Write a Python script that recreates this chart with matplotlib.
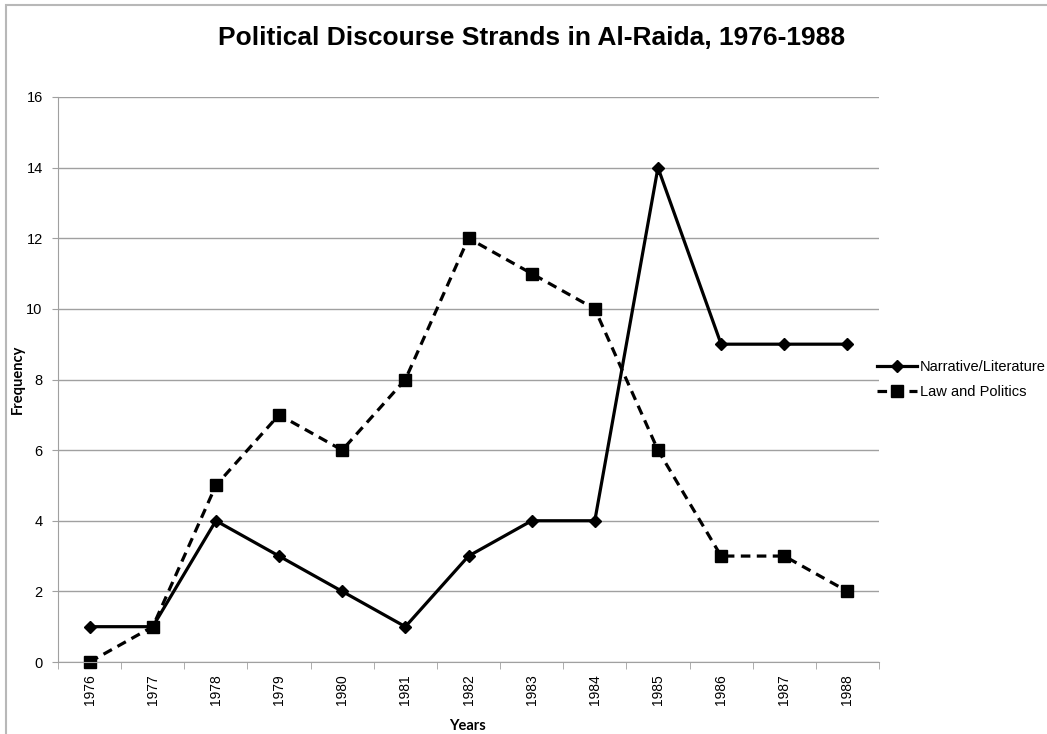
import matplotlib.pyplot as plt
from matplotlib.patches import Rectangle

years = ['1976', '1977', '1978', '1979', '1980', '1981', '1982',
         '1983', '1984', '1985', '1986', '1987', '1988']
narrative = [1, 1, 4, 3, 2, 1, 3, 4, 4, 14, 9, 9, 9]
law_politics = [0, 1, 5, 7, 6, 8, 12, 11, 10, 6, 3, 3, 2]

plt.rcParams['font.family'] = ['Liberation Sans', 'DejaVu Sans']

fig = plt.figure(figsize=(10.47, 7.34), dpi=100)
ax = fig.add_axes([58 / 1047, 1 - 662 / 734, 821 / 1047, 565 / 734])

# outer chart border (gray, only top and left visible)
fig.patches.append(Rectangle((6 / 1047, -0.1), 1.2, 1 - 5 / 734 + 0.1,
                             transform=fig.transFigure, fill=False,
                             edgecolor='#b8b8b8', linewidth=1.5))

x = list(range(len(years)))
ax.plot(x, narrative, color='black', linewidth=2.3, marker='D',
        markersize=6.5, label='Narrative/Literature', clip_on=False)
ax.plot(x, law_politics, color='black', linewidth=2.3, linestyle=(0, (3, 2)),
        marker='s', markersize=8, label='Law and Politics', clip_on=False)

ax.set_xlim(-0.5, len(years) - 0.5)
ax.set_ylim(0, 16)
ax.set_yticks(range(0, 17, 2))
ax.set_xticks(x)
ax.set_xticklabels(years, rotation=90)
ax.set_xticks([i - 0.5 for i in range(len(years) + 1)], minor=True)
ax.tick_params(axis='x', which='major', length=0, pad=9, labelsize=10)
ax.tick_params(axis='x', which='minor', length=5, color='#a0a0a0')
ax.tick_params(axis='y', length=4, color='#a0a0a0', labelsize=10.5, pad=7)
ax.grid(axis='y', color='#a0a0a0', linewidth=1)
ax.set_axisbelow(True)
for side in ['top', 'right']:
    ax.spines[side].set_visible(False)
for side in ['left', 'bottom']:
    ax.spines[side].set_color('#a0a0a0')

ax.set_xlabel('Years', fontfamily=['Lato', 'DejaVu Sans'], fontweight='bold',
              fontsize=10.5)
ax.set_ylabel('Frequency', fontfamily=['Lato', 'DejaVu Sans'], fontweight='bold',
              fontsize=10.5)
ax.xaxis.set_label_coords((467 - 58) / 821, -(726 - 662) / 565)
ax.yaxis.set_label_coords((18 - 58) / 821, 0.5)
ax.xaxis.label.set_va('center')
ax.yaxis.label.set_va('center')

fig.text(532 / 1047, 1 - 38 / 734, 'Political Discourse Strands in Al-Raida, 1976-1988',
         ha='center', va='center', fontsize=19, fontweight='bold')

ax.legend(loc='center left', bbox_to_anchor=(0.982, 0.5), frameon=False,
          fontsize=10.5, handlelength=2.7, handletextpad=0.2, labelspacing=0.75)

fig.savefig('out.png', dpi=100)
